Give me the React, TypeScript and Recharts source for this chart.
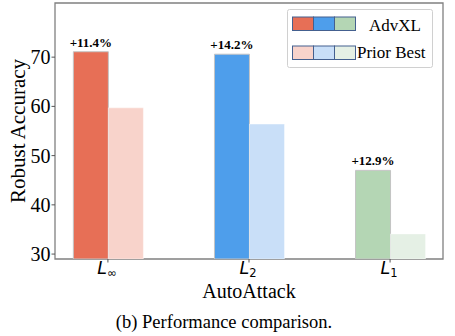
import React from 'react';
import { BarChart, Bar, XAxis, YAxis, Cell, LabelList, ReferenceArea } from 'recharts';

const categories = ['L∞', 'L2', 'L1'];
const subscripts = ['∞', '2', '1'];
const advxl = [71.1, 70.6, 47.0];
const priorBest = [59.7, 56.4, 34.1];
const gains = ['+11.4%', '+14.2%', '+12.9%'];
const advxlColors = ['#E76F56', '#4E9EEB', '#B4D6B4'];
const priorColors = ['#F8D3CB', '#C9DFF8', '#E5F0E5'];
const yTicks = [30, 40, 50, 60, 70];

const data = categories.map((c, i) => ({
  x: i,
  name: c,
  sub: subscripts[i],
  advxl: advxl[i],
  prior: priorBest[i],
  gain: gains[i],
}));

const serif = '"Liberation Serif", "Times New Roman", serif';

const XTick = (props: any) => {
  const { x, y, payload } = props;
  const d = data[payload.value];
  if (!d) return null;
  return (
    <text x={x - 1} y={y + 9.5} textAnchor="middle" fontFamily="DejaVu Sans" fontSize={17.5} fill="#000">
      <tspan fontStyle="italic">L</tspan>
      <tspan fontSize={11.5} dy={2.5}>{d.sub}</tspan>
    </text>
  );
};

const GainLabel = (props: any) => {
  const { x, y, width, value } = props;
  return (
    <text x={x + width / 2} y={y - 5} textAnchor="middle" fontFamily={serif} fontWeight="bold" fontSize={13} fill="#000">
      {value}
    </text>
  );
};

const LegendPatch = ({ colors, y }: { colors: string[]; y: number }) => (
  <g>
    {colors.map((c, i) => (
      <rect key={i} x={5.5 + i * 21} y={y} width={21} height={13.5} fill={c} stroke="#44608f" strokeWidth={1} />
    ))}
  </g>
);

export default function App() {
  return (
    <div style={{ position: 'absolute', left: 0, top: 0, width: 455, height: 336, background: '#fff' }}>
      <BarChart
        width={455}
        height={336}
        data={data}
        margin={{ top: 3, right: 12, left: 0, bottom: 0 }}
        barGap={0}
      >
        <XAxis
          dataKey="x"
          type="number"
          domain={[-0.375, 2.375]}
          ticks={[0, 1, 2]}
          allowDataOverflow
          height={77}
          tick={<XTick />}
          tickSize={3.5}
          tickLine={{ stroke: '#555' }}
          axisLine={false}
          label={{
            content: () => (
              <text x={249} y={298} textAnchor="middle" fontFamily={serif} fontSize={20} fill="#000">
                AutoAttack
              </text>
            ),
          }}
        />
        <YAxis
          type="number"
          domain={[29, 81]}
          ticks={yTicks}
          allowDataOverflow
          width={55}
          tickSize={3.5}
          tickMargin={1}
          tickLine={{ stroke: '#555' }}
          axisLine={false}
          tick={{ fontFamily: serif, fontSize: 20, fill: '#000' }}
          label={{
            content: () => (
              <text x={25} y={131} transform="rotate(-90 25 131)" textAnchor="middle" fontFamily={serif} fontSize={21} fill="#000">
                Robust Accuracy
              </text>
            ),
          }}
        />
        <Bar dataKey="advxl" barSize={35} isAnimationActive={false} stroke="#c4c4c4" strokeWidth={1}>
          {data.map((d, i) => (
            <Cell key={i} fill={advxlColors[i]} />
          ))}
          <LabelList dataKey="gain" content={<GainLabel />} />
        </Bar>
        <Bar dataKey="prior" barSize={35} isAnimationActive={false} stroke="#ffffff" strokeOpacity={0.4} strokeWidth={1}>
          {data.map((d, i) => (
            <Cell key={i} fill={priorColors[i]} />
          ))}
        </Bar>
        <ReferenceArea x1={-0.375} x2={2.375} y1={29} y2={81} fill="none" stroke="#808080" strokeWidth={1.3} ifOverflow="visible" />
      </BarChart>
      <div style={{ position: 'absolute', left: 287, top: 9, width: 146, height: 59 }}>
        <svg width={146} height={59} style={{ display: 'block' }}>
          <rect x={0.5} y={0.5} width={145} height={58} rx={2} fill="#fff" stroke="#d0d0d0" strokeWidth={1} />
          <LegendPatch colors={advxlColors} y={8} />
          <text x={82} y={22} fontFamily={serif} fontSize={17} fill="#000">AdvXL</text>
          <LegendPatch colors={priorColors} y={37} />
          <text x={70} y={49} fontFamily={serif} fontSize={17} fill="#000">Prior Best</text>
        </svg>
      </div>
      <svg style={{ position: 'absolute', left: 0, top: 300 }} width={455} height={36}>
        <text x={224} y={28} textAnchor="middle" fontFamily={serif} fontSize={18.5} fill="#000">
          (b) Performance comparison.
        </text>
      </svg>
    </div>
  );
}
